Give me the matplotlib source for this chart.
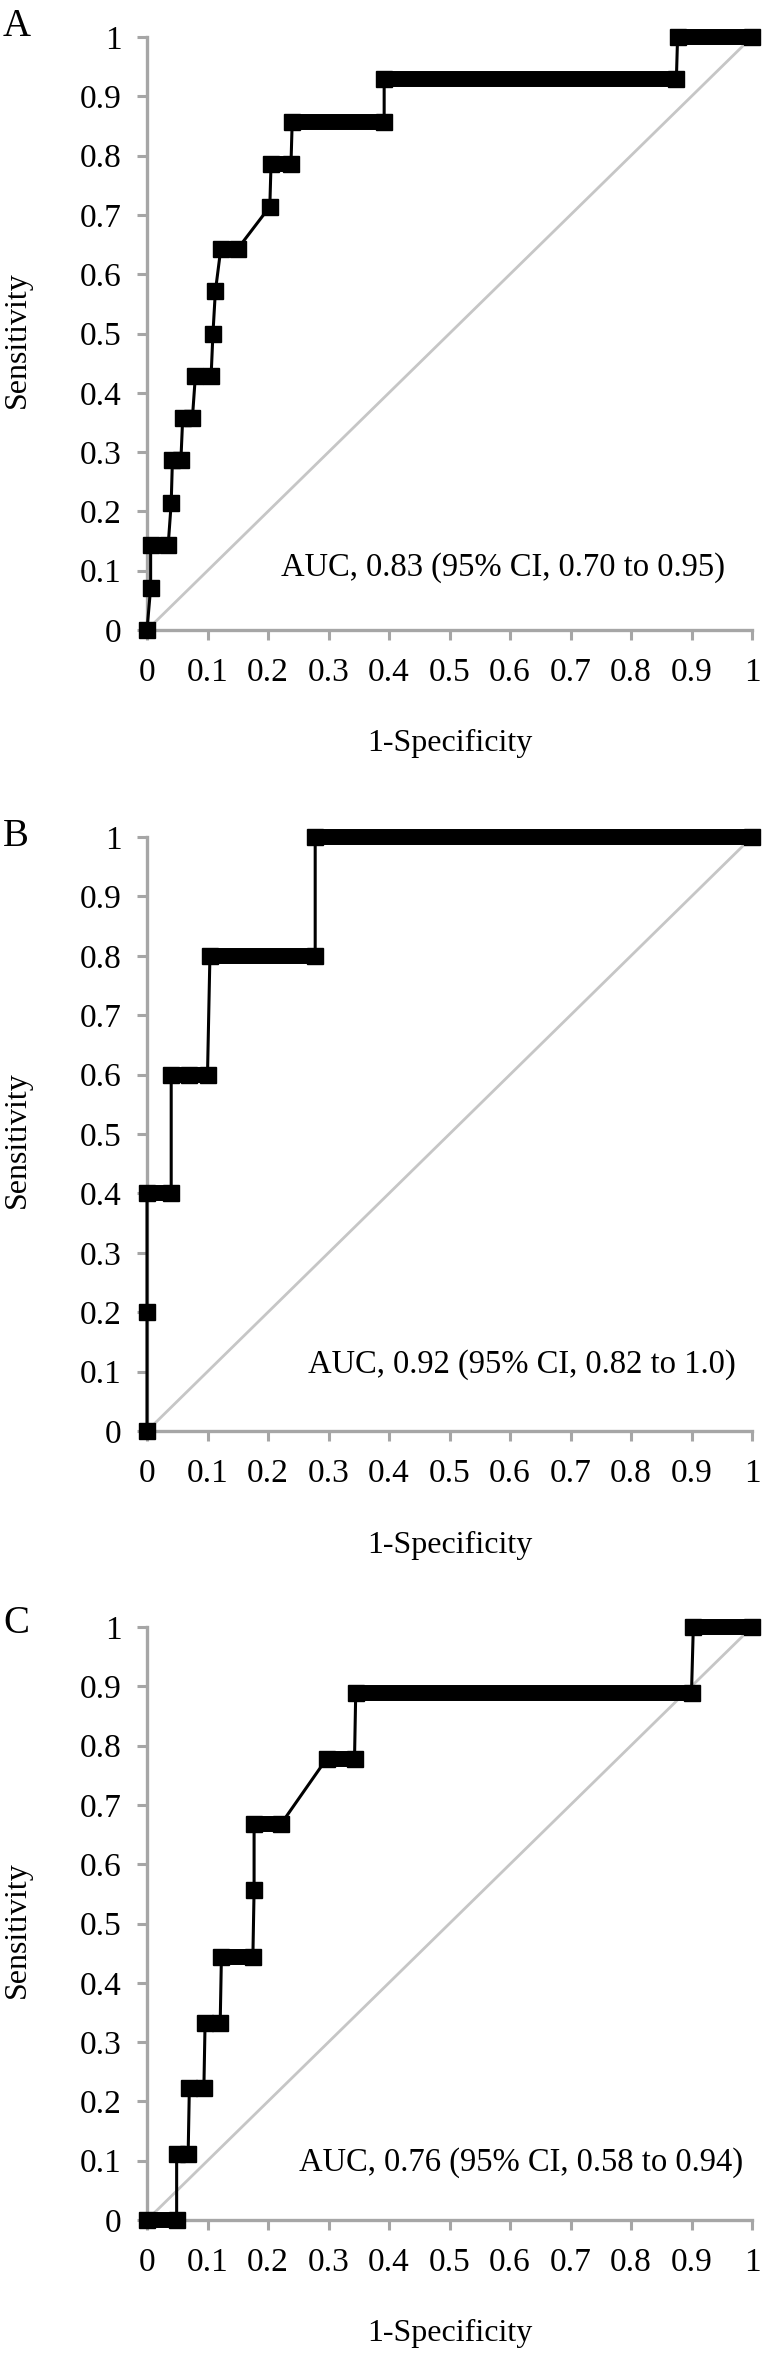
import numpy as np
import matplotlib
matplotlib.use('Agg')
import matplotlib.pyplot as plt

plt.rcParams['font.family'] = ['Liberation Serif', 'DejaVu Serif']

# ROC vertices (1-specificity, sensitivity)
fpr_a = [0, 0.006, 0.006, 0.035, 0.040, 0.042, 0.056, 0.059, 0.075, 0.080, 0.106, 0.109,
         0.113, 0.122, 0.150, 0.203, 0.205, 0.238, 0.240, 0.392, 0.392, 0.875, 0.877, 1.0]
tpr_a = [0, 0.071, 0.143, 0.143, 0.214, 0.286, 0.286, 0.357, 0.357, 0.429, 0.429, 0.5,
         0.571, 0.643, 0.643, 0.714, 0.786, 0.786, 0.857, 0.857, 0.929, 0.929, 1.0, 1.0]

fpr_b = [0, 0, 0, 0.040, 0.040, 0.070, 0.100, 0.104, 0.278, 0.278, 1.0]
tpr_b = [0, 0.2, 0.4, 0.4, 0.6, 0.6, 0.6, 0.8, 0.8, 1.0, 1.0]

fpr_c = [0, 0.049, 0.049, 0.068, 0.070, 0.094, 0.096, 0.121, 0.123, 0.175, 0.177, 0.177,
         0.221, 0.297, 0.343, 0.345, 0.900, 0.903, 1.0]
tpr_c = [0, 0, 0.111, 0.111, 0.222, 0.222, 0.333, 0.333, 0.444, 0.444, 0.556, 0.667,
         0.667, 0.778, 0.778, 0.889, 0.889, 1.0, 1.0]

auc_texts = ['AUC, 0.83 (95% CI, 0.70 to 0.95)',
             'AUC, 0.92 (95% CI, 0.82 to 1.0)',
             'AUC, 0.76 (95% CI, 0.58 to 0.94)']
panel_letters = ['A', 'B', 'C']
ticks = [0, 0.1, 0.2, 0.3, 0.4, 0.5, 0.6, 0.7, 0.8, 0.9, 1]
tick_labels = ['0', '0.1', '0.2', '0.3', '0.4', '0.5', '0.6', '0.7', '0.8', '0.9', '1']

W, H = 774, 2353
fig = plt.figure(figsize=(W / 100, H / 100), dpi=100)

# axes boxes in pixels: (top y of 1, bottom y of 0)
boxes = [(37, 630), (837, 1431), (1627, 2220)]
letter_y = [36, 846, 1633]
auc_pos = [(0.221, 0.105), (0.266, 0.112), (0.251, 0.097)]
left_px, right_px = 147, 752

spine_col = '#a6a6a6'
ms = 11.5

data = [(fpr_a, tpr_a), (fpr_b, tpr_b), (fpr_c, tpr_c)]

for i, (fx, ty) in enumerate(data):
    top, bot = boxes[i]
    ax = fig.add_axes([left_px / W, 1 - bot / H, (right_px - left_px) / W, (bot - top) / H])
    ax.set_xlim(0, 1)
    ax.set_ylim(0, 1)

    # chance line
    ax.plot([0, 1], [0, 1], color='#c6c6c6', lw=2.0, zorder=2, clip_on=False)

    # thin ROC line with square markers
    ax.plot(fx, ty, color='black', lw=2.2, marker='s', ms=ms, mec='black', mfc='black',
            zorder=4, clip_on=False)
    # runs of overlapping markers along flat parts
    for j in range(len(fx) - 1):
        if ty[j] == ty[j + 1] and fx[j + 1] > fx[j]:
            ax.plot([fx[j], fx[j + 1]], [ty[j], ty[j]], color='black', lw=ms,
                    solid_capstyle='butt', zorder=4, clip_on=False)

    for s in ['top', 'right']:
        ax.spines[s].set_visible(False)
    for s in ['left', 'bottom']:
        ax.spines[s].set_color(spine_col)
        ax.spines[s].set_linewidth(2.4)
    ax.set_xticks(ticks)
    ax.set_xticklabels(tick_labels)
    ax.set_yticks(ticks)
    ax.set_yticklabels(tick_labels)
    ax.tick_params(axis='x', direction='out', length=7.5, width=2.2, color=spine_col,
                   labelsize=24, pad=12)
    ax.tick_params(axis='y', direction='out', length=7.5, width=2.2, color=spine_col,
                   labelsize=24, pad=11)

    ax.text(auc_pos[i][0], auc_pos[i][1], auc_texts[i], fontsize=23.5, ha='left',
            va='center', transform=ax.transAxes, zorder=5)
    ax.text(0.5, -0.192, '1-Specificity', fontsize=23, ha='center', va='center',
            transform=ax.transAxes)
    ax.text(-0.215, 0.49, 'Sensitivity', fontsize=23, ha='center', va='center',
            rotation=90, transform=ax.transAxes)

    fig.text(3 / W, 1 - letter_y[i] / H, panel_letters[i], fontsize=28, ha='left',
             va='baseline')

fig.savefig('out.png', dpi=100, facecolor='white')
